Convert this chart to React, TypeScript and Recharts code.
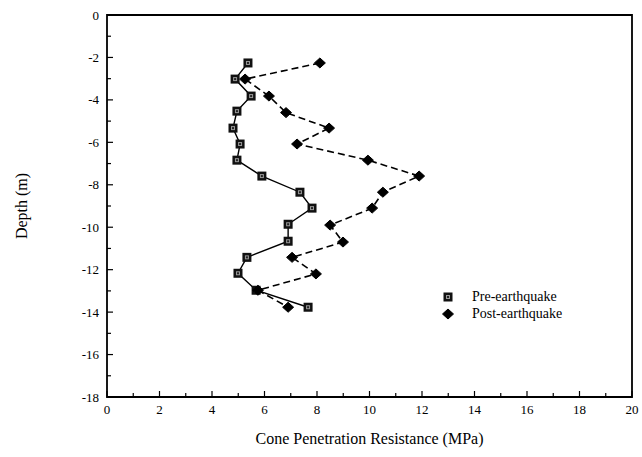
import React from 'react';
import {
  ScatterChart, Scatter, XAxis, YAxis, ReferenceArea,
} from 'recharts';

// depth (m) and cone resistance (MPa)
const preDepth = [-2.26, -3.02, -3.82, -4.53, -5.33, -6.08, -6.84, -7.59, -8.35, -9.1, -9.86, -10.66, -11.42, -12.17, -12.97, -13.77];
const preQc = [5.37, 4.88, 5.49, 4.95, 4.8, 5.07, 4.95, 5.9, 7.35, 7.81, 6.9, 6.9, 5.33, 4.99, 5.68, 7.66];

const postDepth = [-2.26, -3.02, -3.82, -4.6, -5.33, -6.08, -6.84, -7.59, -8.35, -9.1, -9.9, -10.7, -11.42, -12.2, -12.97, -13.77];
const postQc = [8.11, 5.26, 6.17, 6.82, 8.46, 7.24, 9.94, 11.89, 10.51, 10.1, 8.5, 8.99, 7.05, 7.96, 5.75, 6.9];

const xTicks = [0, 1, 2, 3, 4, 5, 6, 7, 8, 9, 10, 11, 12, 13, 14, 15, 16, 17, 18, 19, 20];
const yTicks = [-18, -17, -16, -15, -14, -13, -12, -11, -10, -9, -8, -7, -6, -5, -4, -3, -2, -1, 0];

const preData = preQc.map((qc, i) => ({ qc, depth: preDepth[i] }));
const postData = postQc.map((qc, i) => ({ qc, depth: postDepth[i] }));

const FONT = '"Liberation Serif", "Times New Roman", serif';

const SquareDot = (props: any) => {
  const { cx, cy } = props;
  if (cx == null || cy == null) return null;
  return (
    <g>
      <rect x={cx - 4.5} y={cy - 4.5} width={9} height={9} fill="#111" />
      <rect x={cx - 2} y={cy - 2} width={4} height={4} fill="#999" />
      <rect x={cx - 1} y={cy - 1} width={2} height={2} fill="#222" />
    </g>
  );
};

const DiamondDot = (props: any) => {
  const { cx, cy } = props;
  if (cx == null || cy == null) return null;
  return (
    <polygon
      points={`${cx},${cy - 5} ${cx + 5.5},${cy} ${cx},${cy + 5} ${cx - 5.5},${cy}`}
      fill="#000"
      stroke="#000"
      strokeLinejoin="round"
      strokeWidth={1}
    />
  );
};

const XTick = (props: any) => {
  const { x, y, payload } = props;
  const major = payload.value % 2 === 0;
  return (
    <g>
      <line x1={x} x2={x} y1={y} y2={y - (major ? 6 : 4)} stroke="#000" strokeWidth={1.2} />
      {major && (
        <text x={x} y={y + 17} textAnchor="middle" fontSize={13} fontFamily={FONT} fill="#000">
          {payload.value}
        </text>
      )}
    </g>
  );
};

const YTick = (props: any) => {
  const { x, y, payload } = props;
  const major = payload.value % 2 === 0;
  return (
    <g>
      <line x1={x} x2={x + (major ? 6 : 4)} y1={y} y2={y} stroke="#000" strokeWidth={1.2} />
      {major && (
        <text x={x - 8} y={y + 4.5} textAnchor="end" fontSize={13} fontFamily={FONT} fill="#000">
          {payload.value}
        </text>
      )}
    </g>
  );
};

export default function App() {
  return (
    <div style={{ position: 'absolute', left: 0, top: 0, width: 642, height: 457, background: '#fff' }}>
      <style>{'body{margin:0}'}</style>
      <ScatterChart width={642} height={457} margin={{ top: 15, right: 10, bottom: 10, left: 12 }}>
        <XAxis
          type="number"
          dataKey="qc"
          domain={[0, 20]}
          ticks={xTicks}
          interval={0}
          tick={<XTick />}
          tickLine={false}
          tickSize={0}
          tickMargin={0}
          axisLine={false}
          height={50}
          label={{ value: 'Cone Penetration Resistance (MPa)', position: 'insideBottom', offset: 3, style: { fontFamily: FONT, fontSize: 16, fill: '#000' } }}
        />
        <YAxis
          type="number"
          dataKey="depth"
          domain={[-18, 0]}
          ticks={yTicks}
          interval={0}
          tick={<YTick />}
          tickLine={false}
          tickSize={0}
          tickMargin={0}
          axisLine={false}
          width={95}
          label={{ value: 'Depth (m)', angle: -90, position: 'insideLeft', offset: 9, style: { fontFamily: FONT, fontSize: 16, fill: '#000', textAnchor: 'middle' } }}
        />
        <ReferenceArea x1={0} x2={20} y1={-18} y2={0} fill="none" stroke="#000" strokeWidth={1.8} fillOpacity={0} />
        <Scatter
          name="Pre-earthquake"
          data={preData}
          line={{ stroke: '#000', strokeWidth: 1.4 }}
          lineType="joint"
          shape={<SquareDot />}
          isAnimationActive={false}
        />
        <Scatter
          name="Post-earthquake"
          data={postData}
          line={{ stroke: '#000', strokeWidth: 1.6, strokeDasharray: '7 4' }}
          lineType="joint"
          shape={<DiamondDot />}
          isAnimationActive={false}
        />
      </ScatterChart>
      <div style={{ position: 'absolute', left: 440, top: 288, fontFamily: FONT, fontSize: 14, color: '#000', lineHeight: '17px' }}>
        <div style={{ display: 'flex', alignItems: 'center' }}>
          <svg width={20} height={14}><SquareDot cx={8} cy={7} /></svg>
          <span style={{ marginLeft: 12 }}>Pre-earthquake</span>
        </div>
        <div style={{ display: 'flex', alignItems: 'center' }}>
          <svg width={20} height={14}><DiamondDot cx={8} cy={7} /></svg>
          <span style={{ marginLeft: 12 }}>Post-earthquake</span>
        </div>
      </div>
    </div>
  );
}
